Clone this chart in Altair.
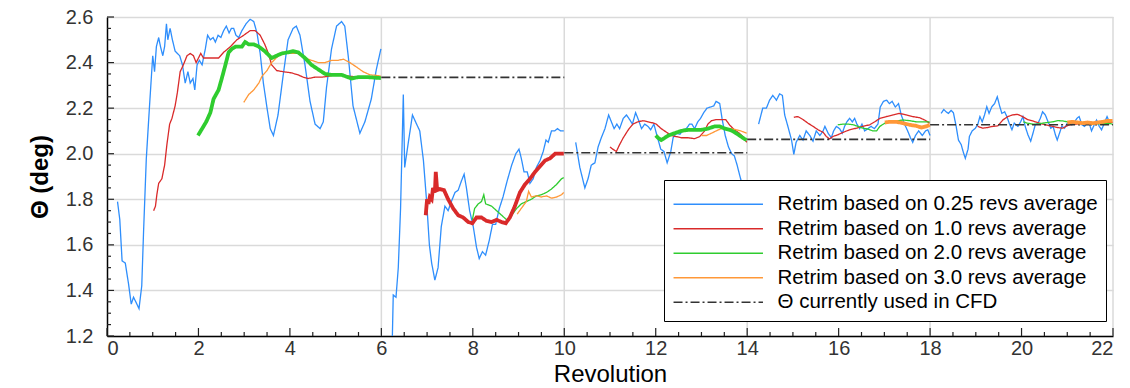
import altair as alt
import pandas as pd

# ---------------- series names / styles ----------------
S025 = "Retrim based on 0.25 revs average"
S1 = "Retrim based on 1.0 revs average"
S2 = "Retrim based on 2.0 revs average"
S3 = "Retrim based on 3.0 revs average"
SCFD = "Θ currently used in CFD"
series_names = [S025, S1, S2, S3, SCFD]
series_colors = ["#2e8efc", "#d92a2a", "#2fcc2f", "#ff9838", "#333333"]
series_dashes = [[1, 0], [1, 0], [1, 0], [1, 0], [9, 3, 2, 3]]

# ---------------- 0.25 revs average (blue) ----------------
b1_x = [0.23, 0.28, 0.33, 0.40, 0.47, 0.53, 0.58, 0.63, 0.70, 0.76, 0.80, 0.86, 0.93, 1.00, 1.04, 1.08, 1.13,
        1.17, 1.22, 1.26, 1.30, 1.33, 1.38, 1.43, 1.49, 1.59, 1.65, 1.71, 1.77, 1.82, 1.88, 1.92, 1.97, 2.02,
        2.08, 2.15, 2.20, 2.26, 2.32, 2.37, 2.43, 2.49, 2.55, 2.61, 2.67, 2.72, 2.77, 2.82, 2.88, 2.95, 3.04,
        3.13, 3.21, 3.28, 3.35, 3.42, 3.50, 3.57, 3.64, 3.74, 3.85, 3.96, 4.07, 4.14, 4.22, 4.33, 4.44, 4.55,
        4.66, 4.73, 4.80, 4.91, 5.02, 5.13, 5.20, 5.28, 5.38, 5.53, 5.64, 5.78, 5.89, 5.99]
b1_y = [1.79, 1.71, 1.53, 1.52, 1.43, 1.34, 1.37, 1.35, 1.32, 1.42, 1.66, 1.98, 2.21, 2.43, 2.36, 2.47, 2.51,
        2.47, 2.43, 2.47, 2.57, 2.50, 2.55, 2.50, 2.45, 2.43, 2.39, 2.31, 2.36, 2.31, 2.33, 2.28, 2.39, 2.41,
        2.39, 2.46, 2.52, 2.50, 2.51, 2.49, 2.52, 2.51, 2.54, 2.56, 2.53, 2.55, 2.55, 2.52, 2.51, 2.54, 2.57,
        2.59, 2.58, 2.53, 2.44, 2.31, 2.20, 2.11, 2.08, 2.17, 2.34, 2.50, 2.55, 2.56, 2.52, 2.39, 2.23, 2.13,
        2.11, 2.14, 2.29, 2.46, 2.56, 2.58, 2.56, 2.42, 2.21, 2.09, 2.14, 2.24, 2.37, 2.46]
b2_x = [6.23, 6.26, 6.32, 6.37, 6.42, 6.48, 6.51, 6.59, 6.68, 6.77, 6.84, 6.92, 6.99, 7.05, 7.10, 7.17, 7.24,
        7.31, 7.39, 7.46, 7.53, 7.61, 7.68, 7.75, 7.81, 7.86, 7.93, 8.01, 8.08, 8.14, 8.21, 8.28, 8.36, 8.43,
        8.50, 8.58, 8.66, 8.75, 8.85, 8.94, 9.01, 9.06, 9.12, 9.19, 9.25, 9.32, 9.39, 9.47, 9.54, 9.60, 9.65,
        9.72, 9.79, 9.85, 9.92, 9.99]
b2_y = [1.10, 1.38, 1.37, 1.50, 1.76, 2.26, 1.94, 2.05, 2.17, 2.13, 2.10, 1.97, 1.79, 1.60, 1.52, 1.445, 1.50,
        1.68, 1.77, 1.75, 1.79, 1.83, 1.84, 1.88, 1.91, 1.85, 1.75, 1.68, 1.59, 1.54, 1.57, 1.555, 1.62, 1.69,
        1.69, 1.76, 1.81, 1.88, 1.95, 2.00, 2.02, 1.98, 1.92, 1.92, 1.87, 1.89, 1.94, 1.97, 2.01, 2.06, 2.05,
        2.10, 2.10, 2.11, 2.10, 2.10]
b3_x = [10.25, 10.34, 10.45, 10.52, 10.59, 10.67, 10.74, 10.81, 10.89, 10.97, 11.03, 11.09, 11.15, 11.21,
        11.29, 11.36, 11.43, 11.49, 11.56, 11.61, 11.69, 11.76, 11.83, 11.89, 11.96, 12.04, 12.11, 12.18,
        12.25, 12.33, 12.38, 12.45, 12.53, 12.60, 12.67, 12.74, 12.79, 12.85, 12.92, 12.98, 13.05, 13.12,
        13.20, 13.27, 13.32, 13.40, 13.45, 13.52, 13.59, 13.66, 13.72, 13.78, 13.83, 13.87, 13.93, 14.0]
b3_y = [2.05, 1.94, 1.85, 1.89, 1.95, 1.96, 2.03, 2.07, 2.11, 2.17, 2.14, 2.11, 2.13, 2.11, 2.155, 2.17, 2.15,
        2.13, 2.18, 2.155, 2.11, 2.13, 2.12, 2.105, 2.13, 2.07, 2.02, 2.01, 1.96, 2.01, 2.07, 2.09, 2.085,
        2.105, 2.11, 2.13, 2.13, 2.11, 2.14, 2.155, 2.18, 2.20, 2.205, 2.21, 2.23, 2.22, 2.155, 2.08, 2.03,
        2.00, 1.99, 1.95, 1.91, 1.88, 1.80, 1.72]
b4_x = [14.25, 14.34, 14.42, 14.49, 14.56, 14.64, 14.71, 14.77, 14.82, 14.89, 14.97, 15.02, 15.07, 15.15,
        15.22, 15.29, 15.37, 15.44, 15.51, 15.59, 15.66, 15.70, 15.77, 15.84, 15.89, 15.95, 16.02, 16.08,
        16.13, 16.18, 16.24, 16.30, 16.35, 16.40, 16.46, 16.51, 16.57, 16.64, 16.71, 16.78, 16.86, 16.91,
        16.98, 17.05, 17.11, 17.17, 17.24, 17.31, 17.37, 17.44, 17.51, 17.57, 17.62, 17.68, 17.75, 17.83,
        17.90, 17.95, 18.0]
b4_y = [2.13, 2.20, 2.20, 2.235, 2.256, 2.235, 2.263, 2.256, 2.17, 2.12, 2.06, 1.997, 2.05, 2.08, 2.06, 2.10,
        2.08, 2.055, 2.10, 2.08, 2.10, 2.12, 2.09, 2.07, 2.10, 2.12, 2.11, 2.09, 2.12, 2.14, 2.155, 2.14, 2.155,
        2.13, 2.11, 2.13, 2.10, 2.11, 2.12, 2.11, 2.13, 2.205, 2.23, 2.235, 2.22, 2.23, 2.205, 2.22, 2.17,
        2.13, 2.10, 2.07, 2.05, 2.08, 2.10, 2.08, 2.10, 2.105, 2.08]
b5_x = [18.24, 18.30, 18.35, 18.40, 18.46, 18.51, 18.57, 18.62, 18.68, 18.73, 18.77, 18.83, 18.86, 18.92,
        18.99, 19.04, 19.09, 19.14, 19.19, 19.24, 19.29, 19.35, 19.41, 19.47, 19.52, 19.57, 19.63, 19.68,
        19.73, 19.79, 19.84, 19.92, 19.98, 20.03, 20.08, 20.14, 20.20, 20.25, 20.30, 20.36, 20.41, 20.46,
        20.52, 20.58, 20.64, 20.69, 20.74, 20.78, 20.83, 20.88, 20.94, 21.00, 21.05, 21.10, 21.16, 21.21,
        21.26, 21.32, 21.38, 21.43, 21.48, 21.53, 21.59, 21.64, 21.70, 21.75, 21.81, 21.87, 21.92, 21.97]
b5_y = [2.177, 2.194, 2.184, 2.177, 2.19, 2.18, 2.12, 2.06, 2.04, 2.004, 1.98, 2.02, 2.076, 2.10, 2.112,
        2.127, 2.163, 2.14, 2.17, 2.206, 2.177, 2.206, 2.22, 2.25, 2.21, 2.177, 2.184, 2.163, 2.134, 2.105,
        2.134, 2.12, 2.14, 2.163, 2.12, 2.083, 2.055, 2.09, 2.127, 2.134, 2.155, 2.184, 2.17, 2.14, 2.112,
        2.12, 2.083, 2.06, 2.09, 2.12, 2.112, 2.134, 2.14, 2.127, 2.14, 2.155, 2.163, 2.127, 2.12, 2.134,
        2.134, 2.10, 2.127, 2.148, 2.12, 2.105, 2.134, 2.163, 2.14, 2.14]

# ---------------- 1.0 revs average (red) ----------------
r1_x = [1.02, 1.06, 1.09, 1.13, 1.20, 1.26, 1.31, 1.37, 1.42, 1.49, 1.54, 1.60, 1.67, 1.75, 1.82, 1.89, 1.95,
        2.00, 2.05, 2.11, 2.26, 2.44, 2.55, 2.70, 2.84, 2.99, 3.13, 3.24, 3.35, 3.45, 3.53, 3.60, 3.71, 3.85,
        4.03, 4.18, 4.29, 4.40, 4.55, 4.70, 4.84, 4.99, 5.30, 5.60, 6.00]
r1_y = [1.75, 1.77, 1.82, 1.87, 1.89, 1.95, 2.04, 2.13, 2.155, 2.21, 2.27, 2.36, 2.39, 2.43, 2.44, 2.43, 2.40,
        2.42, 2.44, 2.42, 2.42, 2.42, 2.445, 2.47, 2.50, 2.52, 2.54, 2.54, 2.52, 2.48, 2.44, 2.39, 2.365, 2.36,
        2.355, 2.346, 2.336, 2.33, 2.336, 2.336, 2.34, 2.346, 2.34, 2.335, 2.335]
r2_x = [6.97, 7.00, 7.03, 7.06, 7.10, 7.13, 7.17, 7.19, 7.22, 7.28, 7.37, 7.46, 7.57, 7.68, 7.79, 7.90, 7.99,
        8.08, 8.19, 8.30, 8.41, 8.52, 8.63, 8.72, 8.81, 8.92, 9.03, 9.14, 9.25, 9.36, 9.47, 9.58, 9.69, 9.80,
        9.91, 9.99]
r2_y = [1.73, 1.80, 1.78, 1.81, 1.80, 1.85, 1.83, 1.92, 1.84, 1.845, 1.84, 1.80, 1.76, 1.73, 1.72, 1.70, 1.695,
        1.72, 1.72, 1.705, 1.70, 1.71, 1.70, 1.695, 1.72, 1.77, 1.83, 1.865, 1.89, 1.92, 1.945, 1.97, 1.98,
        2.00, 2.00, 2.00]
r3_x = [11.0, 11.06, 11.14, 11.21, 11.29, 11.40, 11.50, 11.61, 11.72, 11.83, 11.94, 12.01, 12.12, 12.23, 12.34,
        12.45, 12.56, 12.71, 12.85, 12.96, 13.07, 13.14, 13.22, 13.32, 13.43, 13.53, 13.62, 13.72, 13.83,
        13.93, 13.99]
r3_y = [2.03, 2.02, 2.01, 2.04, 2.07, 2.105, 2.13, 2.14, 2.145, 2.14, 2.135, 2.13, 2.11, 2.095, 2.08, 2.075,
        2.07, 2.07, 2.066, 2.075, 2.10, 2.13, 2.145, 2.15, 2.15, 2.15, 2.125, 2.105, 2.09, 2.07, 2.05]
r4_x = [15.02, 15.11, 15.22, 15.33, 15.44, 15.55, 15.66, 15.73, 15.80, 15.88, 15.98, 16.10, 16.24, 16.39,
        16.53, 16.68, 16.79, 16.90, 17.04, 17.19, 17.33, 17.48, 17.62, 17.77, 17.88, 17.99]
r4_y = [2.16, 2.163, 2.15, 2.134, 2.12, 2.105, 2.094, 2.076, 2.065, 2.076, 2.083, 2.094, 2.105, 2.112, 2.12,
        2.127, 2.14, 2.155, 2.163, 2.17, 2.177, 2.17, 2.163, 2.158, 2.148, 2.134]
r5_x = [19.04, 19.15, 19.26, 19.37, 19.48, 19.59, 19.70, 19.80, 19.91, 20.02, 20.13, 20.24, 20.35, 20.46,
        20.57, 20.68, 20.79, 20.90, 20.97, 21.05, 21.30, 21.60, 21.99]
r5_y = [2.12, 2.112, 2.115, 2.12, 2.122, 2.148, 2.163, 2.17, 2.173, 2.163, 2.15, 2.144, 2.137, 2.13, 2.125,
        2.12, 2.115, 2.112, 2.12, 2.127, 2.132, 2.135, 2.138]

# ---------------- 2.0 revs average (green) ----------------
g1_x = [1.99, 2.08, 2.17, 2.26, 2.33, 2.44, 2.51, 2.59, 2.66, 2.73, 2.81, 2.88, 2.95, 3.02, 3.10, 3.21, 3.32,
        3.45, 3.60, 3.71, 3.82, 3.96, 4.07, 4.18, 4.33, 4.47, 4.62, 4.77, 4.91, 5.13, 5.35, 5.49, 5.71, 5.99]
g1_y = [2.08, 2.11, 2.14, 2.18, 2.24, 2.28, 2.33, 2.39, 2.445, 2.46, 2.47, 2.47, 2.47, 2.49, 2.48, 2.48, 2.47,
        2.45, 2.42, 2.43, 2.44, 2.445, 2.45, 2.445, 2.42, 2.39, 2.37, 2.35, 2.346, 2.346, 2.33, 2.336, 2.336,
        2.332]
g2_x = [7.99, 8.04, 8.12, 8.19, 8.24, 8.28, 8.41, 8.52, 8.63, 8.74, 8.85, 8.96, 9.06, 9.17, 9.28, 9.39, 9.50,
        9.61, 9.72, 9.83, 9.94, 9.99]
g2_y = [1.71, 1.76, 1.78, 1.79, 1.82, 1.78, 1.77, 1.75, 1.73, 1.71, 1.73, 1.76, 1.78, 1.79, 1.80, 1.815, 1.82,
        1.83, 1.845, 1.865, 1.89, 1.895]
g3_x = [12.0, 12.05, 12.12, 12.20, 12.28, 12.41, 12.56, 12.71, 12.85, 13.00, 13.14, 13.29, 13.40, 13.51,
        13.62, 13.72, 13.83, 13.94, 13.99]
g3_y = [2.08, 2.07, 2.06, 2.07, 2.08, 2.09, 2.10, 2.105, 2.105, 2.105, 2.11, 2.12, 2.12, 2.11, 2.105, 2.095,
        2.08, 2.065, 2.06]
g4_x = [15.98, 16.10, 16.21, 16.32, 16.42, 16.53, 16.64, 16.75, 16.83, 16.90, 17.01, 17.12, 17.26, 17.41,
        17.55, 17.70, 17.84, 17.99]
g4_y = [2.127, 2.13, 2.13, 2.127, 2.12, 2.112, 2.108, 2.10, 2.10, 2.12, 2.134, 2.14, 2.144, 2.148, 2.145,
        2.14, 2.14, 2.14]
g5_x = [20.04, 20.13, 20.24, 20.35, 20.46, 20.57, 20.68, 20.79, 20.90, 21.00, 21.15, 21.30, 21.45, 21.59,
        21.73, 21.88, 21.99]
g5_y = [2.14, 2.134, 2.13, 2.13, 2.134, 2.137, 2.14, 2.145, 2.144, 2.14, 2.14, 2.137, 2.134, 2.134, 2.13,
        2.134, 2.13]

# ---------------- 3.0 revs average (orange) ----------------
o1_x = [2.99, 3.10, 3.21, 3.32, 3.39, 3.50, 3.60, 3.75, 3.89, 4.03, 4.18, 4.33, 4.47, 4.62, 4.77, 4.91, 5.06,
        5.17, 5.31, 5.46, 5.60, 5.75, 5.89, 5.99]
o1_y = [2.225, 2.26, 2.28, 2.31, 2.34, 2.365, 2.40, 2.43, 2.44, 2.44, 2.44, 2.42, 2.41, 2.40, 2.40, 2.41, 2.41,
        2.415, 2.40, 2.38, 2.36, 2.346, 2.344, 2.34]
o2_x = [8.97, 9.06, 9.17, 9.22, 9.28, 9.39, 9.50, 9.61, 9.72, 9.83, 9.94, 9.99]
o2_y = [1.735, 1.76, 1.79, 1.835, 1.81, 1.815, 1.81, 1.815, 1.805, 1.81, 1.82, 1.83]
o3_x = [13.0, 13.11, 13.22, 13.32, 13.43, 13.54, 13.65, 13.76, 13.86, 13.99]
o3_y = [2.08, 2.08, 2.09, 2.10, 2.11, 2.11, 2.11, 2.105, 2.10, 2.09]
o4_x = [17.01, 17.12, 17.26, 17.41, 17.55, 17.70, 17.81, 17.92, 17.99]
o4_y = [2.137, 2.14, 2.14, 2.134, 2.127, 2.122, 2.115, 2.12, 2.127]
o5_x = [21.0, 21.12, 21.23, 21.34, 21.45, 21.56, 21.67, 21.78, 21.88, 21.99]
o5_y = [2.137, 2.14, 2.137, 2.134, 2.137, 2.134, 2.137, 2.14, 2.144, 2.144]

# ---------------- Θ currently used in CFD ----------------
cfd_start = [6, 10, 14, 18]
cfd_end = [10, 14, 18, 22]
cfd_value = [2.335, 2.004, 2.063, 2.127]

# ---------------- axes ----------------
x_labels = [0, 2, 4, 6, 8, 10, 12, 14, 16, 18, 20, 22]
x_minor = [0.5, 1, 1.5, 2.5, 3, 3.5, 4.5, 5, 5.5, 6.5, 7, 7.5, 8.5, 9, 9.5, 10.5, 11, 11.5, 12.5, 13, 13.5,
           14.5, 15, 15.5, 16.5, 17, 17.5, 18.5, 19, 19.5, 20.5, 21, 21.5]
x_grid = [6, 10, 14, 18, 22]
y_labels = [1.2, 1.4, 1.6, 1.8, 2.0, 2.2, 2.4, 2.6]
y_minor = [1.25, 1.3, 1.35, 1.45, 1.5, 1.55, 1.65, 1.7, 1.75, 1.85, 1.9, 1.95, 2.05, 2.1, 2.15,
           2.25, 2.3, 2.35, 2.45, 2.5, 2.55]

# thick line = series in use for each segment
rows = []
curves = [
    (S025, 1, b1_x, b1_y, 0), (S025, 2, b2_x, b2_y, 0), (S025, 3, b3_x, b3_y, 0),
    (S025, 4, b4_x, b4_y, 0), (S025, 5, b5_x, b5_y, 0),
    (S1, 1, r1_x, r1_y, 0), (S1, 2, r2_x, r2_y, 1), (S1, 3, r3_x, r3_y, 0),
    (S1, 4, r4_x, r4_y, 0), (S1, 5, r5_x, r5_y, 0),
    (S2, 1, g1_x, g1_y, 1), (S2, 2, g2_x, g2_y, 0), (S2, 3, g3_x, g3_y, 1),
    (S2, 4, g4_x, g4_y, 0), (S2, 5, g5_x, g5_y, 0),
    (S3, 1, o1_x, o1_y, 0), (S3, 2, o2_x, o2_y, 0), (S3, 3, o3_x, o3_y, 0),
    (S3, 4, o4_x, o4_y, 1), (S3, 5, o5_x, o5_y, 1),
]
for name, seg, xs, ys, thick in curves:
    for x, y in zip(xs, ys):
        rows.append({"rev": x, "theta": y, "series": name, "key": f"{name}-{seg}", "thick": thick})
for k, (a, b, v) in enumerate(zip(cfd_start, cfd_end, cfd_value)):
    rows.append({"rev": a, "theta": v, "series": SCFD, "key": f"cfd-{k}", "thick": 2})
    rows.append({"rev": b, "theta": v, "series": SCFD, "key": f"cfd-{k}", "thick": 2})
df = pd.DataFrame(rows)

FONT = "Liberation Sans"
W, H = 1006, 319

xscale = alt.Scale(domain=[0, 22], nice=False, zero=False)
yscale = alt.Scale(domain=[1.2, 2.6], nice=False, zero=False)

X = alt.X("rev:Q", scale=xscale, title="Revolution",
          axis=alt.Axis(values=x_labels, format="d", grid=False, ticks=False, labelPadding=2,
                        labelFontSize=20, labelFont=FONT, labelColor="#333333",
                        domainColor="#000000", domainWidth=1.5,
                        titleFontSize=24, titleFont=FONT, titleFontWeight="normal",
                        titleColor="#000000", titlePadding=4))
Y = alt.Y("theta:Q", scale=yscale, title="Θ (deg)",
          axis=alt.Axis(values=y_labels, format=".1f", grid=True, gridColor="#dadada", gridWidth=1.5,
                        ticks=False, labelPadding=14, labelFontSize=20, labelFont=FONT,
                        labelColor="#333333", domainColor="#000000", domainWidth=1.5,
                        titleFontSize=24, titleFont=FONT, titleFontWeight="bold",
                        titleColor="#000000", titlePadding=13))

# legend symbol: long horizontal stroke, drawn with a custom path so rows stay compact
legend = alt.Legend(title=" ", titleFontSize=6, titlePadding=0, orient="none", legendX=557, legendY=163,
                    fillColor="white", strokeColor="#000000", padding=8,
                    symbolType="M-5,0H5", symbolSize=320, symbolStrokeWidth=1.5, symbolOffset=36,
                    labelFontSize=20.5, labelFont=FONT, labelColor="#000000", labelLimit=600,
                    labelOffset=49, rowPadding=3.5, zindex=1)
COLOR = alt.Color("series:N", scale=alt.Scale(domain=series_names, range=series_colors), legend=legend)
DASH = alt.StrokeDash("series:N", scale=alt.Scale(domain=series_names, range=series_dashes), legend=legend)

vgrid = alt.Chart(pd.DataFrame({"rev": x_grid})).mark_rule(color="#dadada", strokeWidth=1.5).encode(x=X)
xt_major = alt.Chart(pd.DataFrame({"rev": x_labels})).mark_rule(color="#222222", strokeWidth=1.2).encode(
    x=X, y=alt.value(H), y2=alt.value(H - 8))
xt_minor = alt.Chart(pd.DataFrame({"rev": x_minor})).mark_rule(color="#222222", strokeWidth=1.2).encode(
    x=X, y=alt.value(H), y2=alt.value(H - 4))
yt_major = alt.Chart(pd.DataFrame({"theta": y_labels})).mark_rule(color="#222222", strokeWidth=1.2).encode(
    y=Y, x=alt.value(0), x2=alt.value(7))
yt_minor = alt.Chart(pd.DataFrame({"theta": y_minor})).mark_rule(color="#222222", strokeWidth=1.2).encode(
    y=Y, x=alt.value(0), x2=alt.value(4))

base = alt.Chart(df).encode(x=X, y=Y, color=COLOR, strokeDash=DASH, detail="key:N")
thin = base.transform_filter("datum.thick == 0").mark_line(strokeWidth=1.3, clip=True)
cfd = base.transform_filter("datum.thick == 2").mark_line(strokeWidth=1.6, clip=True)
thick = base.transform_filter("datum.thick == 1").mark_line(strokeWidth=3.8, clip=True)

chart = alt.layer(vgrid, xt_major, xt_minor, yt_major, yt_minor, thin, cfd, thick).properties(
    width=W, height=H,
    autosize=alt.AutoSizeParams(type="none"),
    padding={"left": 107, "top": 17, "right": 17, "bottom": 52},
    background="white",
).configure_view(stroke=None)

chart.save("out.html", embed_options={"renderer": "svg", "actions": False})
